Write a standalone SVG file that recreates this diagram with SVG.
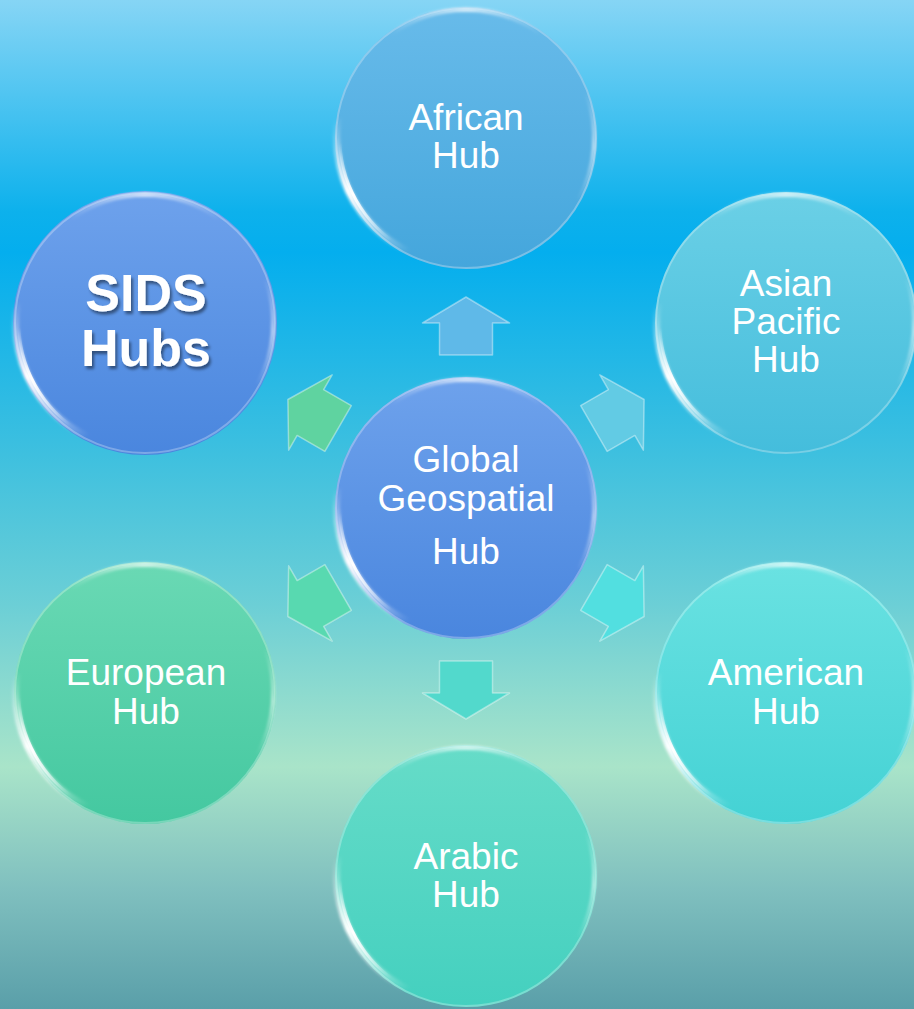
<svg xmlns="http://www.w3.org/2000/svg" xmlns:xlink="http://www.w3.org/1999/xlink" width="914" height="1009" viewBox="0 0 914 1009">
<defs>
  <linearGradient id="bg" x1="0" y1="0" x2="0" y2="1">
    <stop offset="0" stop-color="#86d5f5"/>
    <stop offset="0.21" stop-color="#0db1ec"/>
    <stop offset="0.25" stop-color="#04aeee"/>
    <stop offset="0.45" stop-color="#3ec0df"/>
    <stop offset="0.6" stop-color="#6ccfd6"/>
    <stop offset="0.76" stop-color="#a9e4c9"/>
    <stop offset="0.88" stop-color="#80c0bf"/>
    <stop offset="1" stop-color="#5a9fa9"/>
  </linearGradient>
  <linearGradient id="gAfr" x1="0" y1="0" x2="0" y2="1">
    <stop offset="0" stop-color="#68bbea"/><stop offset="1" stop-color="#44a6dc"/>
  </linearGradient>
  <linearGradient id="gAsia" x1="0" y1="0" x2="0" y2="1">
    <stop offset="0" stop-color="#6bd0e6"/><stop offset="1" stop-color="#44bddc"/>
  </linearGradient>
  <linearGradient id="gBlue" x1="0" y1="0" x2="0" y2="1">
    <stop offset="0" stop-color="#6ea2ec"/><stop offset="1" stop-color="#4a86de"/>
  </linearGradient>
  <linearGradient id="gEur" x1="0" y1="0" x2="0" y2="1">
    <stop offset="0" stop-color="#6ad9b4"/><stop offset="1" stop-color="#44c8a0"/>
  </linearGradient>
  <linearGradient id="gAm" x1="0" y1="0" x2="0" y2="1">
    <stop offset="0" stop-color="#6ae2e2"/><stop offset="1" stop-color="#44d2d4"/>
  </linearGradient>
  <linearGradient id="gAra" x1="0" y1="0" x2="0" y2="1">
    <stop offset="0" stop-color="#66dcc8"/><stop offset="1" stop-color="#44d0bf"/>
  </linearGradient>
  <linearGradient id="hlLL" x1="0" y1="0" x2="0.5" y2="1">
    <stop offset="0" stop-color="#ffffff" stop-opacity="0"/>
    <stop offset="0.45" stop-color="#ffffff" stop-opacity="1"/>
    <stop offset="1" stop-color="#ffffff" stop-opacity="0"/>
  </linearGradient>
  <linearGradient id="hlTop" x1="0" y1="0" x2="1" y2="0">
    <stop offset="0" stop-color="#ffffff" stop-opacity="0"/>
    <stop offset="0.5" stop-color="#ffffff" stop-opacity="0.8"/>
    <stop offset="1" stop-color="#ffffff" stop-opacity="0"/>
  </linearGradient>
  <linearGradient id="hlR" x1="0" y1="0" x2="0" y2="1">
    <stop offset="0" stop-color="#ffffff" stop-opacity="0"/>
    <stop offset="0.5" stop-color="#ffffff" stop-opacity="0.7"/>
    <stop offset="1" stop-color="#ffffff" stop-opacity="0"/>
  </linearGradient>
  <filter id="soft" x="-20%" y="-20%" width="140%" height="140%">
    <feGaussianBlur stdDeviation="1.6"/>
  </filter>
  <filter id="tshadow" x="-20%" y="-20%" width="140%" height="160%">
    <feDropShadow dx="2" dy="3" stdDeviation="1.5" flood-color="#000" flood-opacity="0.45"/>
  </filter>
  <g id="rim">
    <circle r="130" fill="none" stroke="#ffffff" stroke-opacity="0.28" stroke-width="2"/>
    <path d="M -128,-20 A 127 127 0 0 0 -20,125" fill="none" stroke="url(#hlLL)" stroke-width="7" filter="url(#soft)"/>
    <path d="M -126,5 A 127 127 0 0 0 -55,114" fill="none" stroke="url(#hlLL)" stroke-width="3"/>
    <path d="M -75,-104 A 128 128 0 0 1 75,-104" fill="none" stroke="url(#hlTop)" stroke-width="4" filter="url(#soft)"/>
    <path d="M 120,-45 A 128 128 0 0 1 112,62" fill="none" stroke="url(#hlR)" stroke-width="3" filter="url(#soft)"/>
  </g>
  <path id="arrow" d="M0,-29 L43.5,-3 L26.5,-3 L26.5,29 L-26.5,29 L-26.5,-3 L-43.5,-3 Z"/>
</defs>
<style>
  .lbl { font-family: "Liberation Sans", Arial, sans-serif; font-size: 37px; fill: #ffffff; text-anchor: middle; }
  .big { font-family: "Liberation Sans", Arial, sans-serif; font-size: 52px; font-weight: bold; fill: #ffffff; text-anchor: middle; }
  .arr { stroke: #ffffff; stroke-opacity: 0.4; stroke-width: 1.5; stroke-linejoin: round; }
</style>
<rect width="914" height="1009" fill="url(#bg)"/>

<g id="connectors">
  <use xlink:href="#arrow" class="arr" fill="#5fb9e8" transform="translate(466,326)"/>
  <use xlink:href="#arrow" class="arr" fill="#62cbe4" transform="translate(619,414) rotate(60)"/>
  <use xlink:href="#arrow" class="arr" fill="#5fd3a0" transform="translate(313,414) rotate(-60)"/>
  <use xlink:href="#arrow" class="arr" fill="#58d9b0" transform="translate(313,602) rotate(-120)"/>
  <use xlink:href="#arrow" class="arr" fill="#52dfe0" transform="translate(619,602) rotate(120)"/>
  <use xlink:href="#arrow" class="arr" fill="#52d9cc" transform="translate(466,690) rotate(180)"/>
</g>

<g id="node-african">
  <circle cx="466" cy="138" r="131" fill="url(#gAfr)"/>
  <use xlink:href="#rim" transform="translate(466,138)"/>
  <text class="lbl" x="466" y="130">African</text>
  <text class="lbl" x="466" y="168">Hub</text>
</g>

<g id="node-asian-pacific">
  <circle cx="786" cy="323" r="131" fill="url(#gAsia)"/>
  <use xlink:href="#rim" transform="translate(786,323)"/>
  <text class="lbl" x="786" y="296">Asian</text>
  <text class="lbl" x="786" y="334">Pacific</text>
  <text class="lbl" x="786" y="372">Hub</text>
</g>

<g id="node-sids">
  <circle cx="145" cy="323" r="132" fill="url(#gBlue)"/>
  <use xlink:href="#rim" transform="translate(145,323)"/>
  <text class="big" x="146" y="311" filter="url(#tshadow)">SIDS</text>
  <text class="big" x="146" y="366" filter="url(#tshadow)">Hubs</text>
</g>

<g id="node-global">
  <circle cx="466" cy="508" r="131" fill="url(#gBlue)"/>
  <use xlink:href="#rim" transform="translate(466,508)"/>
  <text class="lbl" x="466" y="472">Global</text>
  <text class="lbl" x="466" y="511">Geospatial</text>
  <text class="lbl" x="466" y="564">Hub</text>
</g>

<g id="node-european">
  <circle cx="145" cy="693" r="131" fill="url(#gEur)"/>
  <use xlink:href="#rim" transform="translate(145,693)"/>
  <text class="lbl" x="146" y="685">European</text>
  <text class="lbl" x="146" y="724">Hub</text>
</g>

<g id="node-american">
  <circle cx="786" cy="693" r="131" fill="url(#gAm)"/>
  <use xlink:href="#rim" transform="translate(786,693)"/>
  <text class="lbl" x="786" y="685">American</text>
  <text class="lbl" x="786" y="724">Hub</text>
</g>

<g id="node-arabic">
  <circle cx="466" cy="876" r="131" fill="url(#gAra)"/>
  <use xlink:href="#rim" transform="translate(466,876)"/>
  <text class="lbl" x="466" y="869">Arabic</text>
  <text class="lbl" x="466" y="907">Hub</text>
</g>
</svg>
